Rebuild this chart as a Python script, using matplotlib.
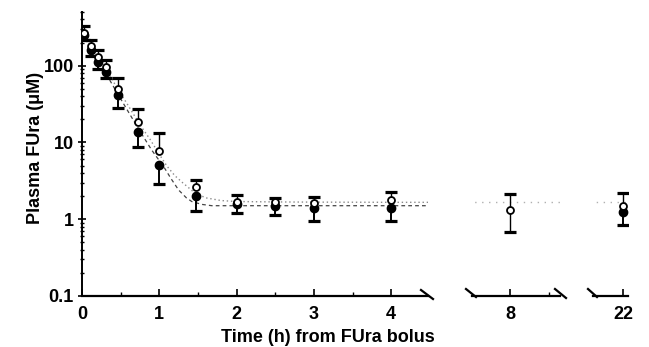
import matplotlib
matplotlib.use("Agg")
import matplotlib.pyplot as plt
from matplotlib.lines import Line2D
from matplotlib.ticker import LogLocator, FixedLocator, NullFormatter, FixedFormatter
import numpy as np

plt.rcParams['font.family'] = ['Liberation Sans', 'DejaVu Sans']

# ---- data ----
t_open = [0.03, 0.11, 0.21, 0.31, 0.46, 0.73, 0.99, 1.48, 2.0, 2.5, 3.0, 4.0, 8.0, 22.0]
open_mean = [270, 180, 128, 96, 50, 18.5, 7.8, 2.6, 1.7, 1.7, 1.65, 1.8, 1.32, 1.5]
open_upper = [330, 215, 158, 120, 69, 27.6, 13.1, 3.25, 2.07, 1.9, 1.97, 2.24, 2.11, 2.18]
open_lower = [270, 180, 128, 96, 50, 18.5, 7.8, 2.6, 1.7, 1.7, 1.65, 1.8, 0.69, 1.5]

t_filled = [0.03, 0.11, 0.21, 0.31, 0.46, 0.73, 0.99, 1.48, 2.0, 2.5, 3.0, 4.0, 22.0]
filled_mean = [250, 160, 112, 82, 41, 13.5, 5.1, 2.0, 1.6, 1.5, 1.39, 1.42, 1.26]
filled_lower = [215, 135, 90, 70, 28, 8.6, 2.85, 1.28, 1.2, 1.12, 0.95, 0.96, 0.84]

fit_open_t = [0.0, 0.1, 0.2, 0.3, 0.45, 0.6, 0.75, 0.88, 1.0, 1.1, 1.2, 1.3, 1.46, 1.6, 1.8, 2.0, 2.5, 3.0, 4.0, 4.48]
fit_open_v = [300, 200, 135, 95, 52, 30, 17, 11, 7.0, 4.9, 3.7, 3.0, 2.2, 1.9, 1.75, 1.7, 1.68, 1.67, 1.66, 1.66]

fit_filled_t = [0.0, 0.1, 0.2, 0.3, 0.45, 0.6, 0.75, 0.9, 1.0, 1.07, 1.15, 1.25, 1.35, 1.42, 1.55, 1.68, 2.0, 3.0, 4.0, 4.48]
fit_filled_v = [270, 175, 118, 82, 45, 25, 14, 8.0, 5.8, 4.6, 3.4, 2.4, 1.9, 1.7, 1.56, 1.5, 1.5, 1.5, 1.5, 1.5]

late_t = [7.0, 9.0, 21.0, 23.0]
late_v = [1.66, 1.66, 1.66, 1.66]

ytick_vals = [0.1, 1, 10, 100]
ytick_labels = ["0.1", "1", "10", "100"]
seg_ticks = [[0, 1, 2, 3, 4], [8], [22]]
seg_tick_labels = [["0", "1", "2", "3", "4"], ["8"], ["22"]]

# ---- figure ----
W, H = 649, 347
fig = plt.figure(figsize=(W / 100, H / 100), dpi=100)
fig.patch.set_facecolor('white')

y_bot = 296
y_top = 12
segs = [(82, 428, 0.0, 4.476), (472, 560, 7.508, 8.647), (593, 628, 21.612, 22.065)]

o_has_low = [lo < m for lo, m in zip(open_lower, open_mean)]
o_low_t = [t for t, h in zip(t_open, o_has_low) if h]
o_low_v = [lo for lo, h in zip(open_lower, o_has_low) if h]

axes = []
for i, (x0, x1, lo, hi) in enumerate(segs):
    ax = fig.add_axes([x0 / W, 1 - y_bot / H, (x1 - x0) / W, (y_bot - y_top) / H])
    ax.set_yscale('log')
    ax.set_ylim(0.1, 500)
    ax.set_xlim(lo, hi)
    for s in ['top', 'right']:
        ax.spines[s].set_visible(False)
    ax.spines['bottom'].set_linewidth(1.6)
    ax.spines['left'].set_linewidth(1.4)
    if i > 0:
        ax.spines['left'].set_visible(False)
        ax.tick_params(axis='y', which='both', left=False, labelleft=False)
    else:
        ax.yaxis.set_major_locator(FixedLocator(ytick_vals))
        ax.yaxis.set_major_formatter(FixedFormatter(ytick_labels))
        ax.yaxis.set_minor_locator(LogLocator(base=10, subs=np.arange(2, 10)))
        ax.yaxis.set_minor_formatter(NullFormatter())
        ax.tick_params(axis='y', which='major', direction='inout', length=6, width=1.2, pad=3,
                       labelsize=13)
        ax.tick_params(axis='y', which='minor', direction='inout', length=3, width=1.0)
        for lab in ax.get_yticklabels():
            lab.set_fontweight('bold')
    ax.xaxis.set_major_locator(FixedLocator(seg_ticks[i]))
    ax.xaxis.set_major_formatter(FixedFormatter(seg_tick_labels[i]))
    ax.xaxis.set_minor_locator(FixedLocator([v + 0.5 for v in range(0, 23)]))
    ax.tick_params(axis='x', which='major', direction='in', length=5, width=1.2, pad=7, labelsize=13)
    ax.tick_params(axis='x', which='minor', direction='in', length=3, width=1.0)
    for lab in ax.get_xticklabels():
        lab.set_fontweight('bold')

    # fitted curves
    ax.plot(fit_open_t, fit_open_v, linestyle=(0, (1, 2)), color='#8a8a8a', lw=1.0, zorder=1)
    ax.plot(fit_filled_t, fit_filled_v, linestyle=(0, (3, 2.5)), color='#444444', lw=0.9, zorder=1)
    ax.plot(late_t, late_v, linestyle=(0, (1, 4)), color='#b0b0b0', lw=1.0, zorder=1)

    # filled series: downward error bars
    ax.vlines(t_filled, filled_lower, filled_mean, color='black', lw=1.4, zorder=2)
    ax.plot(t_filled, filled_lower, linestyle='none', marker='_', ms=8, mew=2.3, color='black', zorder=2)
    ax.plot(t_filled, filled_mean, linestyle='none', marker='o', ms=6, mfc='black', mec='black', zorder=3)

    # open series: upward error bars (both directions where present)
    ax.vlines(t_open, open_lower, open_upper, color='black', lw=1.0, zorder=4)
    ax.plot(t_open, open_upper, linestyle='none', marker='_', ms=8, mew=2.3, color='black', zorder=4)
    ax.plot(o_low_t, o_low_v, linestyle='none', marker='_', ms=8, mew=2.3, color='black', zorder=4)
    ax.plot(t_open, open_mean, linestyle='none', marker='o', ms=5, mfc='white', mec='black', mew=1.3,
            zorder=5)
    axes.append(ax)

# axis break slashes
for (xa, ya, xb, yb) in [(421, 290, 433, 299), (466, 289, 476, 297), (555, 289, 566, 298), (588, 289, 597, 297)]:
    fig.add_artist(Line2D([xa / W, xb / W], [1 - ya / H, 1 - yb / H], color='black', lw=1.6))

fig.text(36 / W, 1 - 148 / H, "Plasma FUra (\u03bcM)", rotation=90, ha='center', va='center',
         fontsize=13, fontweight='bold')
fig.text(328 / W, 1 - 337 / H, "Time (h) from FUra bolus", ha='center', va='center',
         fontsize=13, fontweight='bold')

fig.savefig("out.png", dpi=100, facecolor='white')
